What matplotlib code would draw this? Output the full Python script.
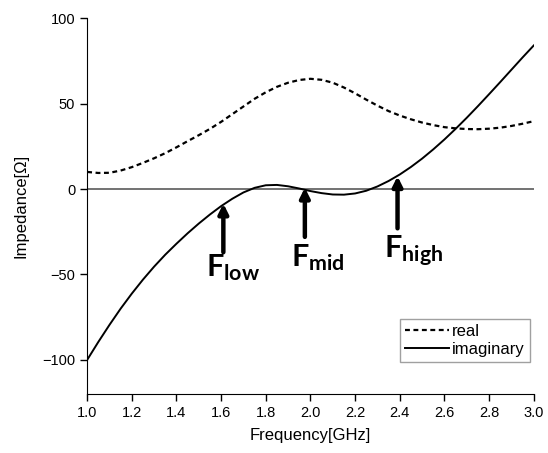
import matplotlib.pyplot as plt
import numpy as np

plt.rcParams['font.family'] = ['Liberation Sans', 'DejaVu Sans']
plt.rcParams['mathtext.fontset'] = 'custom'
plt.rcParams['mathtext.bf'] = 'Lato:bold'
plt.rcParams['mathtext.rm'] = 'Lato'

freq = np.round(np.arange(1.0, 3.0001, 0.05), 2)

real = [10, 9.4, 9.5, 10.8, 12.8, 15.3, 18, 21, 24.4, 28, 31.5, 35.2, 39.3, 43.8,
        48.3, 52.8, 56.6, 59.8, 62.2, 63.8, 64.5, 63.9, 62.2, 59.4, 56, 52.3, 48.8,
        45.6, 43, 40.8, 38.9, 37.4, 36.2, 35.5, 35.1, 35, 35.3, 35.9, 36.9, 38.2, 39.7]

imag = [-100, -89.5, -79.5, -70, -61.2, -53, -45.4, -38.4, -32, -25.9, -20.2, -14.9,
        -10, -5.7, -2, 0.7, 2.2, 2.4, 1.6, 0.3, -1.2, -2.4, -3.2, -3.3, -2.6, -1,
        1.5, 4.7, 8.5, 12.9, 17.8, 23.2, 29, 35.2, 41.7, 48.5, 55.5, 62.6, 69.8, 77, 84]

# marker arrows: (tip x, tip y, tail y, label, label x, label y)
markers = [
    (1.61, -8.5, -37, r'$\mathbf{F_{low}}$', 1.533, -51),
    (1.975, 0.8, -28, r'$\mathbf{F_{mid}}$', 1.913, -45),
    (2.39, 7.5, -23, r'$\mathbf{F_{high}}$', 2.328, -40.5),
]

fig = plt.figure(figsize=(5.48, 4.53), dpi=100)
ax = fig.add_axes([0.159, 0.130, 0.815, 0.830])

ax.axhline(0, color='#5a5a5a', lw=1.2, zorder=1)
ax.plot(freq, real, color='black', lw=1.6, linestyle=(0, (2.2, 1.6)), label='real')
ax.plot(freq, imag, color='black', lw=1.4, label='imaginary')

for tx, ty, tail, lab, lx, ly in markers:
    ax.annotate('', xy=(tx, ty), xytext=(tx, tail),
                arrowprops=dict(arrowstyle='-|>', color='black', lw=3.2,
                                mutation_scale=14, shrinkA=0, shrinkB=0))
    ax.text(lx, ly, lab, fontsize=22, ha='left', va='baseline')

ax.set_xlim(1.0, 3.0)
ax.set_ylim(-120, 100)
ax.set_xticks(np.arange(1.0, 3.01, 0.2))
ax.set_xticklabels([f'{v:.1f}' for v in np.arange(1.0, 3.01, 0.2)])
ax.set_yticks([-100, -50, 0, 50, 100])
ax.spines['top'].set_visible(False)
ax.spines['right'].set_visible(False)
ax.tick_params(direction='out', length=5, width=1, labelsize=10.5)
ax.set_xlabel('Frequency[GHz]', fontsize=12, labelpad=6)
ax.set_ylabel('Impedance[Ω]', fontsize=12, labelpad=10)

leg = ax.legend(loc='lower right', bbox_to_anchor=(0.991, 0.085), borderaxespad=0,
                fancybox=False, fontsize=12, handlelength=2.6, handletextpad=0.2,
                labelspacing=0.2, borderpad=0.3)
leg.get_frame().set_edgecolor('#888888')
leg.get_frame().set_linewidth(1)

fig.savefig('out.png', dpi=100)
